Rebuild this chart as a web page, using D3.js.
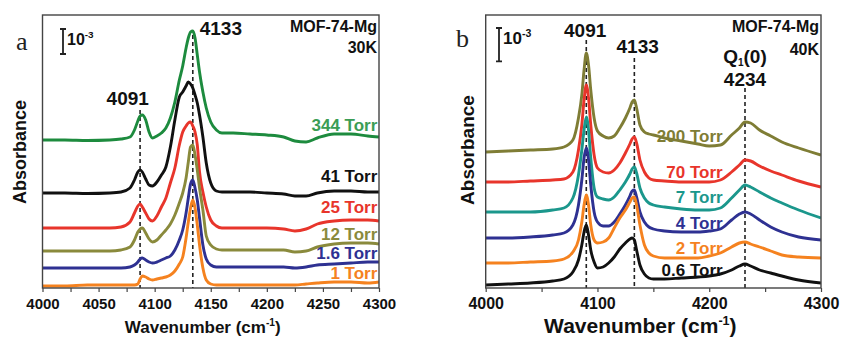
<!DOCTYPE html>
<html>
<head>
<meta charset="utf-8">
<script src="https://cdn.jsdelivr.net/npm/d3@7"></script>
<style>
  body { margin: 0; background: #fff; }
  svg { display: block; }
  text { font-family: "Liberation Sans", Arial, sans-serif; font-weight: bold; }
</style>
</head>
<body>
<svg id="chart" width="844" height="337"></svg>
<script>
// ---- panel a : MOF-74-Mg, 30 K (absorbance in 10^-3, traces offset) ----
const waveA = [4000, 4020, 4040, 4060, 4070, 4078, 4082, 4085, 4087, 4089, 4092, 4095, 4098, 4102, 4106,
  4110, 4114, 4118, 4122, 4125, 4128, 4130, 4132, 4134, 4136, 4138, 4140, 4143, 4146, 4150, 4155, 4160,
  4170, 4185, 4200, 4215, 4225, 4235, 4245, 4260, 4275, 4290, 4300];
const a344 = [5.92, 5.92, 5.90, 5.92, 5.96, 6.04, 6.32, 6.68, 6.88, 6.92, 6.72, 6.24, 6.00, 6.08, 6.20,
  6.40, 6.80, 7.44, 8.32, 8.88, 9.60, 10.00, 10.24, 10.28, 10.00, 9.32, 8.64, 7.84, 7.20, 6.64, 6.32, 6.20,
  6.20, 6.16, 6.12, 6.04, 5.88, 5.84, 6.00, 6.16, 6.16, 6.08, 6.04];
const a41 = [3.80, 3.80, 3.78, 3.80, 3.84, 4.00, 4.32, 4.64, 4.72, 4.64, 4.36, 4.12, 4.08, 4.24, 4.52,
  4.84, 5.64, 6.72, 7.64, 7.84, 8.08, 8.24, 8.16, 8.00, 7.72, 7.40, 6.92, 6.04, 5.00, 4.20, 3.88, 3.84,
  3.84, 3.84, 3.80, 3.76, 3.68, 3.68, 3.80, 3.88, 3.88, 3.84, 3.84];
const a25 = [2.40, 2.40, 2.40, 2.40, 2.44, 2.64, 3.00, 3.28, 3.36, 3.24, 3.00, 2.76, 2.68, 2.88, 3.24,
  3.60, 4.20, 4.80, 5.72, 6.24, 6.48, 6.60, 6.64, 6.48, 6.24, 5.72, 4.64, 3.84, 3.24, 2.72, 2.48, 2.40,
  2.40, 2.40, 2.40, 2.36, 2.28, 2.36, 2.56, 2.68, 2.72, 2.72, 2.68];
const a12 = [1.48, 1.48, 1.48, 1.48, 1.52, 1.64, 1.92, 2.24, 2.36, 2.40, 2.20, 1.96, 1.84, 1.92, 2.12,
  2.32, 2.56, 2.92, 3.40, 3.80, 4.40, 5.04, 5.64, 5.72, 5.32, 4.72, 4.00, 3.12, 2.08, 1.72, 1.56, 1.52,
  1.52, 1.52, 1.52, 1.52, 1.44, 1.48, 1.64, 1.76, 1.80, 1.80, 1.76];
const a1p6 = [0.80, 0.80, 0.80, 0.80, 0.80, 0.84, 0.92, 1.04, 1.16, 1.20, 1.12, 1.04, 1.00, 1.04, 1.12,
  1.20, 1.28, 1.52, 1.92, 2.32, 3.00, 3.60, 4.16, 4.32, 4.00, 3.52, 2.80, 1.72, 1.16, 0.92, 0.84, 0.84,
  0.84, 0.84, 0.84, 0.84, 0.80, 0.84, 0.92, 0.96, 1.00, 1.04, 1.04];
const a1 = [0.08, 0.08, 0.12, 0.12, 0.12, 0.12, 0.12, 0.16, 0.36, 0.48, 0.44, 0.36, 0.32, 0.36, 0.40,
  0.44, 0.52, 0.68, 0.96, 1.24, 2.00, 2.64, 3.20, 3.52, 3.20, 2.52, 1.72, 0.80, 0.32, 0.16, 0.12, 0.12,
  0.12, 0.12, 0.12, 0.12, 0.12, 0.16, 0.20, 0.24, 0.24, 0.20, 0.24];
const namesA = ["344 Torr", "41 Torr", "25 Torr", "12 Torr", "1.6 Torr", "1 Torr"];
const labelLevelA = [6.28, 4.24, 3.00, 1.92, 1.16, 0.36];
const peaksA = [4087, 4134];
const peakTopA = [7.12, 10.12];

// ---- panel b : MOF-74-Mg, 40 K ----
const waveB = [4000, 4020, 4040, 4060, 4070, 4078, 4083, 4086, 4088, 4090, 4092, 4094, 4097, 4100, 4105,
  4110, 4115, 4120, 4125, 4129, 4131, 4133, 4135, 4138, 4142, 4146, 4150, 4160, 4175, 4190, 4200, 4210,
  4220, 4227, 4232, 4237, 4245, 4255, 4265, 4280, 4300];
const b200 = [4.08, 4.11, 4.14, 4.17, 4.23, 4.44, 5.10, 5.79, 6.54, 7.05, 6.69, 5.94, 5.10, 4.71, 4.56,
  4.50, 4.56, 4.80, 5.10, 5.40, 5.58, 5.64, 5.40, 4.89, 4.68, 4.62, 4.59, 4.50, 4.41, 4.32, 4.26, 4.29,
  4.59, 4.80, 4.98, 4.95, 4.74, 4.56, 4.38, 4.20, 3.99];
const b70 = [3.18, 3.18, 3.21, 3.24, 3.27, 3.48, 4.14, 4.89, 5.64, 6.09, 5.70, 4.89, 3.99, 3.60, 3.48,
  3.45, 3.54, 3.75, 4.05, 4.32, 4.47, 4.53, 4.35, 3.84, 3.48, 3.30, 3.24, 3.21, 3.18, 3.18, 3.18, 3.24,
  3.48, 3.69, 3.84, 3.81, 3.66, 3.51, 3.39, 3.21, 3.03];
const b7 = [2.28, 2.28, 2.28, 2.34, 2.40, 2.70, 3.39, 4.14, 4.74, 5.13, 4.74, 3.90, 3.00, 2.73, 2.67,
  2.64, 2.73, 2.94, 3.18, 3.42, 3.57, 3.63, 3.45, 3.00, 2.70, 2.55, 2.49, 2.43, 2.37, 2.34, 2.34, 2.40,
  2.70, 2.94, 3.09, 3.03, 2.88, 2.70, 2.55, 2.34, 2.10];
const b4 = [1.50, 1.50, 1.53, 1.59, 1.65, 1.89, 2.49, 3.24, 3.90, 4.20, 3.84, 3.09, 2.28, 1.98, 1.86,
  1.86, 1.98, 2.22, 2.49, 2.76, 2.91, 2.94, 2.73, 2.28, 1.98, 1.83, 1.77, 1.71, 1.68, 1.68, 1.71, 1.77,
  2.04, 2.22, 2.28, 2.22, 2.04, 1.83, 1.68, 1.53, 1.44];
const b2 = [0.75, 0.75, 0.78, 0.81, 0.87, 1.08, 1.44, 1.98, 2.49, 2.79, 2.49, 1.89, 1.44, 1.35, 1.38,
  1.50, 1.80, 2.10, 2.34, 2.58, 2.70, 2.73, 2.49, 1.89, 1.29, 1.05, 0.96, 0.90, 0.90, 0.90, 0.96, 1.05,
  1.23, 1.35, 1.38, 1.32, 1.23, 1.11, 0.99, 0.93, 0.90];
const b0p6 = [0.09, 0.12, 0.15, 0.21, 0.27, 0.48, 0.84, 1.29, 1.68, 1.89, 1.59, 1.14, 0.78, 0.60, 0.63,
  0.75, 0.93, 1.17, 1.35, 1.47, 1.50, 1.44, 1.14, 0.69, 0.42, 0.30, 0.27, 0.27, 0.30, 0.33, 0.36, 0.42,
  0.54, 0.66, 0.72, 0.66, 0.54, 0.45, 0.36, 0.24, 0.15];
const namesB = ["200 Torr", "70 Torr", "7 Torr", "4 Torr", "2 Torr", "0.6 Torr"];
const labelLevelB = [4.38, 3.30, 2.55, 1.77, 1.02, 0.36];
const peaksB = [4090, 4133, 4232];
const peakTopB = [7.44, 6.9, 6.0];

const svg = d3.select("#chart");

function drawPanel(p) {
  const x = d3.scaleLinear().domain([4000, 4300]).range([p.left, p.right]);
  const y = d3.scaleLinear().domain([0, p.yMax]).range([p.bottom, p.top]);
  const g = svg.append("g");

  g.append("clipPath").attr("id", "clip-" + p.id)
    .append("rect")
    .attr("x", p.left).attr("y", p.top)
    .attr("width", p.right - p.left).attr("height", p.bottom - p.top);

  // dashed peak markers
  p.peaks.forEach((w, i) => {
    g.append("line")
      .attr("x1", x(w)).attr("x2", x(w))
      .attr("y1", y(p.peakTop[i])).attr("y2", p.bottom)
      .attr("stroke", "#222").attr("stroke-width", 1.6)
      .attr("stroke-dasharray", "4,3");
  });

  // spectra, top trace first so the lower ones sit in front
  const line = d3.line()
    .x((d, i) => x(p.wave[i]))
    .y(d => y(d))
    .curve(d3.curveMonotoneX);

  g.append("g").attr("clip-path", "url(#clip-" + p.id + ")")
    .selectAll("path")
    .data(p.series)
    .enter().append("path")
    .attr("d", d => line(d.values))
    .attr("fill", "none")
    .attr("stroke", d => d.color)
    .attr("stroke-width", 2.9)
    .attr("stroke-linejoin", "round");

  // trace labels
  g.selectAll(".lbl")
    .data(p.series)
    .enter().append("text")
    .attr("class", "lbl")
    .attr("x", x(p.labelAt))
    .attr("y", (d, i) => y(p.labelLevel[i]))
    .attr("text-anchor", "end")
    .attr("font-size", 17)
    .attr("fill", d => d.labelColor || d.color)
    .text(d => d.name);

  // x axis, major + minor ticks
  const major = d3.axisBottom(x).tickValues(p.major).tickSize(4).tickSizeOuter(0)
    .tickPadding(6).tickFormat(d3.format("d"));
  const minor = d3.axisBottom(x).tickValues(p.minor).tickSize(4).tickSizeOuter(0).tickFormat("");
  const ax = g.append("g").attr("transform", "translate(0," + p.bottom + ")").call(major);
  ax.attr("font-size", p.tickFont);
  ax.select(".domain").remove();
  ax.selectAll("line").attr("stroke", "#444").attr("stroke-width", 1.2);
  ax.selectAll("text").attr("fill", "#111");
  const mx = g.append("g").attr("transform", "translate(0," + p.bottom + ")").call(minor);
  mx.select(".domain").remove();
  mx.selectAll("line").attr("stroke", "#444").attr("stroke-width", 1.2);

  // frame
  g.append("rect")
    .attr("x", p.left).attr("y", p.top)
    .attr("width", p.right - p.left).attr("height", p.bottom - p.top)
    .attr("fill", "none").attr("stroke", "#444").attr("stroke-width", 1.4);

  // axis titles
  const xt = g.append("text")
    .attr("x", (p.left + p.right) / 2 + p.titleShift).attr("y", 333)
    .attr("text-anchor", "middle").attr("font-size", p.titleFont).attr("fill", "#111");
  xt.append("tspan").text("Wavenumber (cm");
  xt.append("tspan").attr("dy", -p.titleFont * 0.4).attr("font-size", p.titleFont * 0.6).text("-1");
  xt.append("tspan").attr("dy", p.titleFont * 0.4).text(")");

  g.append("text")
    .attr("transform", "translate(" + p.yTitleX + "," + p.yTitleY + ") rotate(-90)")
    .attr("text-anchor", "middle").attr("font-size", p.yTitleFont).attr("fill", "#111")
    .text("Absorbance");

  // panel letter
  g.append("text")
    .attr("x", p.letterX).attr("y", p.letterY)
    .attr("font-size", 26)
    .style("font-weight", "normal")
    .style("font-family", "'Liberation Serif', 'Times New Roman', serif")
    .attr("fill", "#222")
    .text(p.letter);

  // 10^-3 scale bar
  const barX = p.left + p.barDx;
  const barTop = y(p.barAt), barBot = y(p.barAt - 1);
  g.append("path")
    .attr("d", `M${barX},${barTop}V${barBot}M${barX - 3},${barTop}H${barX + 3}M${barX - 3},${barBot}H${barX + 3}`)
    .attr("stroke", "#222").attr("stroke-width", 1.8).attr("fill", "none");
  const st = g.append("text").attr("x", barX + 4).attr("y", barTop + 16)
    .attr("font-size", p.barFont).attr("fill", "#111");
  st.append("tspan").text("10");
  st.append("tspan").attr("dy", -7).attr("font-size", p.barFont * 0.62).text("-3");

  // sample name and temperature
  g.append("text").attr("x", p.right - 2).attr("y", 32).attr("text-anchor", "end")
    .attr("font-size", 16).attr("fill", "#111").text("MOF-74-Mg");
  g.append("text").attr("x", p.right - 2).attr("y", p.tempY).attr("text-anchor", "end")
    .attr("font-size", 16).attr("fill", "#111").text(p.temp);

  // peak position labels
  p.peakLabels.forEach(pl => {
    const t = g.append("text").attr("x", x(pl.at)).attr("y", y(pl.level))
      .attr("text-anchor", "middle").attr("font-size", 19).attr("fill", "#111");
    if (pl.sub) {
      t.append("tspan").text(pl.text);
      t.append("tspan").attr("dy", 3).attr("font-size", 10).text(pl.sub);
      t.append("tspan").attr("dy", -3).text(pl.tail);
    } else {
      t.text(pl.text);
    }
  });
}

drawPanel({
  id: "a", letter: "a", letterX: 16, letterY: 50,
  left: 42.5, right: 379, top: 15, bottom: 288, yMax: 10.92,
  wave: waveA,
  series: [
    { name: namesA[0], values: a344, color: "#1d8b3e", labelColor: "#3b9d55" },
    { name: namesA[1], values: a41, color: "#111111" },
    { name: namesA[2], values: a25, color: "#e8352b" },
    { name: namesA[3], values: a12, color: "#8a8a3c" },
    { name: namesA[4], values: a1p6, color: "#2e3192" },
    { name: namesA[5], values: a1, color: "#f5821f" }
  ],
  labelAt: 4298.5, labelLevel: labelLevelA,
  peaks: peaksA, peakTop: peakTopA,
  peakLabels: [
    { text: "4091", at: 4076, level: 7.32 },
    { text: "4133", at: 4159, level: 10.12 }
  ],
  major: [4000, 4050, 4100, 4150, 4200, 4250, 4300],
  minor: [4025, 4075, 4125, 4175, 4225, 4275],
  tickFont: 15, titleFont: 17, titleShift: -8, yTitleFont: 18, yTitleX: 26, yTitleY: 152,
  barDx: 20.5, barAt: 10.36, barFont: 16,
  temp: "30K", tempY: 53
});

drawPanel({
  id: "b", letter: "b", letterX: 456, letterY: 47,
  left: 485.7, right: 821, top: 15, bottom: 288, yMax: 8.19,
  wave: waveB,
  series: [
    { name: namesB[0], values: b200, color: "#7f7d35" },
    { name: namesB[1], values: b70, color: "#e8352b" },
    { name: namesB[2], values: b7, color: "#1b978c" },
    { name: namesB[3], values: b4, color: "#2e3192" },
    { name: namesB[4], values: b2, color: "#f5821f" },
    { name: namesB[5], values: b0p6, color: "#111111" }
  ],
  labelAt: 4212, labelLevel: labelLevelB,
  peaks: peaksB, peakTop: peakTopB,
  peakLabels: [
    { text: "4091", at: 4089, level: 7.53 },
    { text: "4133", at: 4136, level: 7.05 },
    { text: "Q", sub: "1", tail: "(0)", at: 4232, level: 6.75 },
    { text: "4234", at: 4232, level: 6.06 }
  ],
  major: [4000, 4100, 4200, 4300],
  minor: [4050, 4150, 4250],
  tickFont: 16, titleFont: 21, titleShift: -13, yTitleFont: 19, yTitleX: 474, yTitleY: 150,
  barDx: 13.3, barAt: 7.8, barFont: 17,
  temp: "40K", tempY: 55
});
</script>
</body>
</html>
